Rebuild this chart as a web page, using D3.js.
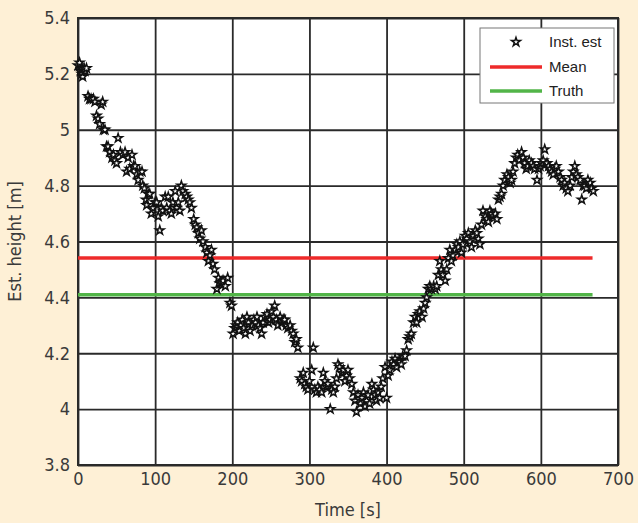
<!DOCTYPE html>
<html><head><meta charset="utf-8">
<script src="https://cdn.jsdelivr.net/npm/d3@7"></script>
<style>
html,body{margin:0;padding:0;background:#fef0d6;}
svg{display:block;}
.tick text{font-family:"DejaVu Sans Condensed","DejaVu Sans",sans-serif;font-stretch:condensed;}
</style></head>
<body>
<svg id="c" width="638" height="523"></svg>
<script>
const timeS = [0,2,3,5,5,6,8,9,11,13,15,17,20,22,24,26,28,30,32,33,35,37,39,41,44,46,48,50,52,55,58,61,63,65,67,70,72,74,76,78,80,83,84,86,88,89,91,93,95,97,100,102,104,106,108,110,113,115,117,119,121,123,126,128,130,132,134,136,139,141,143,145,147,150,152,154,156,158,160,162,165,167,169,171,173,175,177,180,182,184,186,188,191,194,197,199,201,203,205,207,209,211,213,215,217,219,221,223,226,228,230,232,234,236,238,240,242,245,247,249,251,253,255,257,259,262,264,266,268,270,272,275,277,279,281,283,285,288,290,292,294,296,298,300,303,305,307,309,311,313,316,318,320,322,324,327,329,331,333,335,337,339,342,344,346,348,350,352,355,357,359,361,363,366,368,370,372,374,376,378,381,383,385,387,389,391,393,395,398,400,402,404,407,409,411,413,415,417,419,421,424,426,428,430,432,435,437,439,441,443,446,448,450,452,454,456,458,461,463,465,467,469,471,473,476,478,480,482,484,486,489,491,493,495,497,499,502,504,506,508,510,512,515,517,519,521,523,525,528,530,532,534,536,538,541,543,545,547,549,551,553,556,558,560,562,564,566,568,570,572,575,577,579,581,583,585,588,590,592,595,597,599,601,603,605,608,610,612,614,616,618,620,623,625,627,629,631,633,635,638,640,642,644,646,648,651,653,655,657,659,661,664,666,668];
const instEst = [5.23,5.24,5.21,5.22,5.20,5.19,5.22,5.21,5.22,5.12,5.11,5.11,5.11,5.10,5.05,5.04,5.02,5.09,5.10,5.00,5.00,4.94,4.94,4.92,4.90,4.91,4.89,4.88,4.97,4.92,4.91,4.92,4.85,4.90,4.86,4.91,4.87,4.87,4.84,4.82,4.85,4.85,4.80,4.79,4.75,4.73,4.77,4.77,4.70,4.72,4.74,4.74,4.69,4.64,4.72,4.71,4.76,4.72,4.76,4.71,4.70,4.74,4.78,4.72,4.74,4.71,4.80,4.78,4.77,4.76,4.75,4.74,4.72,4.68,4.66,4.65,4.63,4.61,4.64,4.60,4.58,4.56,4.53,4.55,4.57,4.52,4.50,4.43,4.47,4.45,4.45,4.46,4.44,4.47,4.38,4.37,4.27,4.29,4.30,4.31,4.28,4.30,4.32,4.29,4.27,4.33,4.31,4.28,4.30,4.32,4.31,4.33,4.30,4.29,4.27,4.31,4.33,4.34,4.31,4.32,4.35,4.33,4.37,4.32,4.30,4.33,4.31,4.32,4.32,4.30,4.29,4.30,4.28,4.27,4.24,4.25,4.22,4.11,4.10,4.13,4.09,4.08,4.07,4.10,4.14,4.22,4.07,4.06,4.08,4.07,4.06,4.13,4.10,4.08,4.09,4.00,4.07,4.06,4.08,4.11,4.16,4.15,4.13,4.14,4.10,4.12,4.14,4.11,4.09,4.06,4.03,3.99,4.05,4.02,4.04,4.06,4.01,4.03,4.05,4.02,4.09,4.07,4.05,4.03,4.06,4.04,4.08,4.11,4.15,4.04,4.12,4.14,4.17,4.16,4.18,4.15,4.17,4.17,4.16,4.19,4.19,4.21,4.25,4.26,4.27,4.31,4.33,4.31,4.34,4.35,4.33,4.36,4.38,4.40,4.43,4.44,4.43,4.44,4.43,4.44,4.48,4.53,4.50,4.48,4.46,4.50,4.54,4.57,4.53,4.55,4.57,4.59,4.58,4.60,4.56,4.59,4.62,4.61,4.63,4.60,4.58,4.62,4.64,4.63,4.61,4.59,4.66,4.71,4.69,4.68,4.67,4.71,4.70,4.69,4.70,4.68,4.75,4.76,4.77,4.80,4.82,4.84,4.83,4.81,4.82,4.85,4.88,4.90,4.91,4.89,4.92,4.90,4.88,4.86,4.87,4.89,4.88,4.87,4.86,4.82,4.86,4.87,4.88,4.89,4.93,4.88,4.87,4.86,4.85,4.84,4.86,4.87,4.85,4.83,4.82,4.80,4.81,4.79,4.78,4.80,4.83,4.85,4.87,4.84,4.83,4.82,4.75,4.80,4.80,4.79,4.82,4.81,4.79,4.78];
const meanValue = 4.541;
const truthValue = 4.409;
const lineEndTime = 667;
const xTicks = [0,100,200,300,400,500,600,700];
const yTicks = [3.8,4,4.2,4.4,4.6,4.8,5,5.2,5.4];
const legendLabels = ["Inst. est","Mean","Truth"];

const svg = d3.select("#c");
const L = 78, R = 618, T = 18, B = 465;
const x = d3.scaleLinear().domain([0,700]).range([L,R]);
const y = d3.scaleLinear().domain([3.8,5.4]).range([B,T]);
const condensed = '"DejaVu Sans Condensed","DejaVu Sans",sans-serif';

svg.append("rect").attr("x",L).attr("y",T).attr("width",R-L).attr("height",B-T).attr("fill","#fff");

// grid
const gx = svg.append("g").attr("transform",`translate(0,${B})`)
  .call(d3.axisBottom(x).tickValues(xTicks).tickSize(-(B-T)).tickFormat(d=>d).tickPadding(6));
const gy = svg.append("g").attr("transform",`translate(${L},0)`)
  .call(d3.axisLeft(y).tickValues(yTicks).tickSize(-(R-L)).tickFormat(d=>d3.format("")(+d.toFixed(1))).tickPadding(8));
[gx,gy].forEach(g=>{
  g.select(".domain").remove();
  g.selectAll(".tick line").attr("stroke","#2a2a2a").attr("stroke-width",1.8);
  g.selectAll(".tick text").attr("fill","#3a3a3a").style("font-size","18px").style("font-family",condensed);
});
gx.selectAll(".tick text").attr("dy","0.75em");

svg.append("rect").attr("x",L).attr("y",T).attr("width",R-L).attr("height",B-T)
  .attr("fill","none").attr("stroke","#2a2a2a").attr("stroke-width",2);

// mean & truth
svg.append("line").attr("x1",x(0)).attr("x2",x(lineEndTime)).attr("y1",y(meanValue)).attr("y2",y(meanValue))
  .attr("stroke","#ee2a2a").attr("stroke-width",3.5);
svg.append("line").attr("x1",x(0)).attr("x2",x(lineEndTime)).attr("y1",y(truthValue)).attr("y2",y(truthValue))
  .attr("stroke","#52b548").attr("stroke-width",3.5);

// stars
const star = d3.symbol().type(d3.symbolStar).size(24);
svg.append("g").selectAll("path").data(timeS.map((t,i)=>[t,instEst[i]])).join("path")
  .attr("d",star).attr("transform",d=>`translate(${x(d[0])},${y(d[1])})`)
  .attr("fill","#fff").attr("stroke","#111").attr("stroke-width",1.5);

// axis labels
svg.append("text").attr("x",(L+R)/2).attr("y",516).attr("text-anchor","middle")
  .attr("fill","#3a3a3a").style("font-family",condensed).style("font-size","18px").text("Time [s]");
svg.append("text").attr("transform",`translate(21,${(T+B)/2}) rotate(-90)`).attr("text-anchor","middle")
  .attr("fill","#3a3a3a").style("font-family",condensed).style("font-size","18px").text("Est. height [m]");

// legend
const lg = svg.append("g");
lg.append("rect").attr("x",480).attr("y",28).attr("width",134).attr("height",75)
  .attr("fill","#fff").attr("stroke","#777").attr("stroke-width",1);
lg.append("path").attr("d",star).attr("transform","translate(516,42)")
  .attr("fill","#fff").attr("stroke","#111").attr("stroke-width",1.5);
lg.append("line").attr("x1",490).attr("x2",542).attr("y1",67).attr("y2",67).attr("stroke","#ee2a2a").attr("stroke-width",3.5);
lg.append("line").attr("x1",490).attr("x2",542).attr("y1",91).attr("y2",91).attr("stroke","#52b548").attr("stroke-width",3.5);
legendLabels.forEach((s,i)=>{
  lg.append("text").attr("x",549).attr("y",42+i*24.5).attr("dy","0.35em")
    .attr("fill","#222").style("font-family","'Liberation Sans',Arial,sans-serif").style("font-size","15px").text(s);
});
</script>
</body></html>
